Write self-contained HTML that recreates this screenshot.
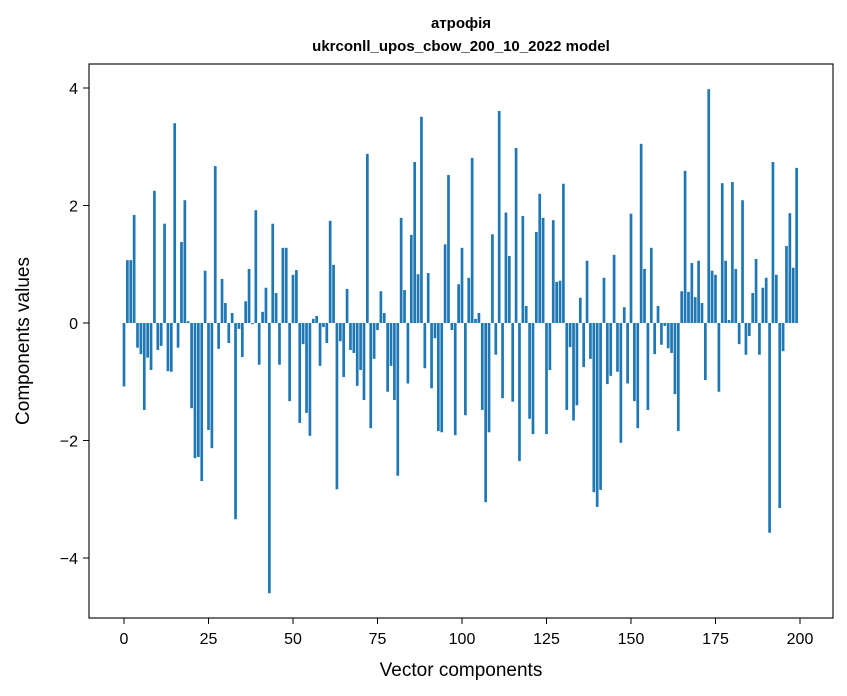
<!DOCTYPE html>
<html><head><meta charset="utf-8"><style>
body{margin:0;background:#fff;}
svg{display:block;font-family:"Liberation Sans","DejaVu Sans",sans-serif;}
</style></head><body>
<svg id="chart" width="847" height="696" viewBox="0 0 847 696">
<rect width="847" height="696" fill="#fff"/>
<text x="461" y="28" text-anchor="middle" font-size="15" font-weight="bold">атрофія</text>
<text x="461" y="51" text-anchor="middle" font-size="15" font-weight="bold">ukrconll_upos_cbow_200_10_2022 model</text>
<g id="bars"></g>
<g id="axes"></g>
<rect x="89" y="64" width="744" height="554" fill="none" stroke="#000" stroke-width="1.1"/>
<text x="461" y="676" text-anchor="middle" font-size="19">Vector components</text>
<text transform="translate(29,341) rotate(-90)" text-anchor="middle" font-size="19">Components values</text>
</svg>
<script>
const values = [-1.08,1.07,1.07,1.84,-0.42,-0.53,-1.48,-0.59,-0.80,2.25,-0.46,-0.39,1.69,-0.82,-0.83,3.40,-0.42,1.38,2.09,0.03,
-1.45,-2.30,-2.28,-2.69,0.89,-1.82,-2.13,2.67,-0.44,0.75,0.34,-0.34,0.17,-3.34,-0.10,-0.58,0.37,0.92,-0.02,1.92,
-0.71,0.19,0.60,-4.60,1.69,0.51,-0.71,1.28,1.28,-1.33,0.82,0.90,-1.70,-0.36,-1.53,-1.92,0.07,0.12,-0.73,-0.07,
-0.34,1.74,0.99,-2.83,-0.31,-0.92,0.58,-0.46,-0.51,-1.07,-0.80,-1.31,2.88,-1.79,-0.61,-0.12,0.54,0.17,-1.17,-0.73,
-1.31,-2.60,1.79,0.56,-1.03,1.50,2.74,0.83,3.51,-0.77,0.85,-1.11,-0.26,-1.84,-1.86,1.34,2.52,-0.12,-1.91,0.66,
1.28,-1.57,0.77,2.81,0.07,0.17,-1.48,-3.05,-1.86,1.51,-0.54,3.61,-1.28,1.88,1.14,-1.34,2.98,-2.35,1.82,0.29,
-1.63,-1.89,1.55,2.20,1.79,-1.89,-0.80,1.75,0.70,0.72,2.37,-1.48,-0.41,-1.66,-1.40,0.43,-0.75,1.06,-0.61,-2.88,
-3.13,-2.84,0.77,-1.04,-0.90,1.16,-0.83,-2.04,0.27,-1.03,1.86,-1.33,-1.79,3.05,0.92,-1.48,1.28,-0.53,0.29,-0.37,
-0.05,-0.43,-0.51,-1.21,-1.84,0.54,2.59,0.53,1.02,0.44,1.06,0.34,-0.97,3.98,0.89,0.82,-1.17,2.38,1.06,0.05,
2.40,0.92,-0.36,2.09,-0.54,-0.22,0.51,1.09,-0.54,0.60,0.77,-3.57,2.74,0.82,-3.15,-0.48,1.31,1.87,0.94,2.64];
const xTicks = [0,25,50,75,100,125,150,175,200];
const yTicks = [-4,-2,0,2,4];
const NS='http://www.w3.org/2000/svg';
function xs(v){return 124+(800-124)/200*v;}
function ys(v){return 323-(323-88)/4*v;}
const bars=document.getElementById('bars');
values.forEach((v,i)=>{
  const r=document.createElementNS(NS,'rect');
  
  
  const w=(xs(0.8)-xs(0));
  r.setAttribute('x',xs(i)-w/2);
  r.setAttribute('width',w);
  r.setAttribute('y',Math.min(ys(v),ys(0)));
  r.setAttribute('height',Math.abs(ys(v)-ys(0)));
  r.setAttribute('fill','#1f77b4');
  bars.appendChild(r);
});
const axes=document.getElementById('axes');
xTicks.forEach(t=>{
  const l=document.createElementNS(NS,'line');
  
  
  l.setAttribute('x1',xs(t));l.setAttribute('x2',xs(t));l.setAttribute('y1',618);l.setAttribute('y2',624);
  l.setAttribute('stroke','#000');
  axes.appendChild(l);
  const tx=document.createElementNS(NS,'text');
  
  
  tx.setAttribute('x',xs(t));tx.setAttribute('y',644);tx.setAttribute('text-anchor','middle');tx.setAttribute('font-size','16');
  tx.textContent=t;
  axes.appendChild(tx);
});
yTicks.forEach(t=>{
  const l=document.createElementNS(NS,'line');
  
  
  l.setAttribute('x1',83);l.setAttribute('x2',89);l.setAttribute('y1',ys(t));l.setAttribute('y2',ys(t));
  l.setAttribute('stroke','#000');
  axes.appendChild(l);
  const tx=document.createElementNS(NS,'text');
  
  
  tx.setAttribute('x',78);tx.setAttribute('y',ys(t)+6);tx.setAttribute('text-anchor','end');tx.setAttribute('font-size','16');
  tx.textContent=t<0?'\u2212'+Math.abs(t):String(t);
  axes.appendChild(tx);
});
</script>
</body></html>
